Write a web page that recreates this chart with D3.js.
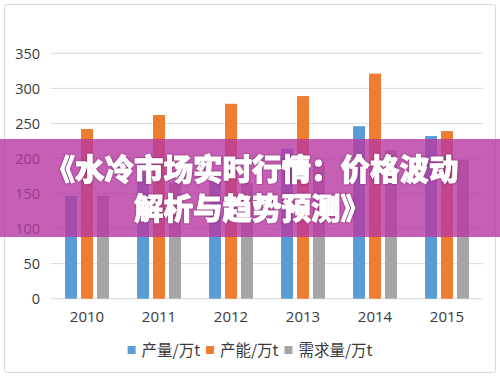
<!DOCTYPE html>
<html>
<head>
<meta charset="utf-8">
<script src="https://cdn.jsdelivr.net/npm/d3@7"></script>
<style>
  body { margin: 0; background: #fff; }
  svg { display: block; }
</style>
</head>
<body>
<div id="chart"></div>
<script>
// Data
const years = ["2010", "2011", "2012", "2013", "2014", "2015"];
const seriesNames = ["产量/万t", "产能/万t", "需求量/万t"];
const seriesColors = ["#5b9bd5", "#ed7d31", "#a5a5a5"];
const output = [147, 180, 172, 214, 246, 232];
const capacity = [242, 262, 278, 289, 321, 239];
const demand = [147, 165, 165, 194, 212, 198];
const yTicks = [0, 50, 100, 150, 200, 250, 300, 350];
const titleLines = ["《水冷市场实时行情：价格波动", "解析与趋势预测》"];

const seriesValues = [output, capacity, demand];
const rows = years.map((y, i) => ({year: y, values: seriesValues.map(s => s[i])}));

const width = 500, height = 377;
const plot = {left: 51, right: 483, top: 53.3, bottom: 298.7};

const svg = d3.select("#chart")
              .append("svg")
              .attr("width", width)
              .attr("height", height);

// Frame
svg.append("rect")
   .attr("x", 4.5)
   .attr("y", 4.5)
   .attr("width", 491)
   .attr("height", 368)
   .attr("rx", 2)
   .attr("fill", "#fff")
   .attr("stroke", "#d9d9d9");

// Scales
const x0 = d3.scaleBand()
             .domain(years)
             .range([plot.left, plot.right])
             .paddingInner(0.39)
             .paddingOuter(0.195);

const x1 = d3.scaleBand()
             .domain(d3.range(seriesNames.length))
             .range([0, x0.bandwidth()])
             .paddingInner(0.25)
             .paddingOuter(0);

const y = d3.scaleLinear()
            .domain([0, 350])
            .range([plot.bottom, plot.top]);

// Gridlines
svg.append("g")
   .selectAll("line")
   .data(yTicks)
   .join("line")
   .attr("x1", plot.left)
   .attr("x2", plot.right)
   .attr("y1", d => y(d))
   .attr("y2", d => y(d))
   .attr("stroke", "#d9d9d9")
   .attr("stroke-width", 1);

// Y axis labels
svg.append("g")
   .selectAll("text")
   .data(yTicks)
   .join("text")
   .attr("x", 40)
   .attr("y", d => y(d))
   .attr("dy", "0.36em")
   .attr("text-anchor", "end")
   .style("font-family", "'Open Sans', 'Noto Sans', sans-serif")
   .style("font-size", "14.5px")
   .style("fill", "#3a3a3a")
   .text(d => d);

// X axis labels
svg.append("g")
   .selectAll("text")
   .data(years)
   .join("text")
   .attr("x", d => x0(d) + x0.bandwidth() / 2)
   .attr("y", 322)
   .attr("text-anchor", "middle")
   .style("font-family", "'Open Sans', 'Noto Sans', sans-serif")
   .style("font-size", "15px")
   .style("fill", "#3a3a3a")
   .text(d => d);

// Bars
svg.append("g")
   .selectAll("g")
   .data(rows)
   .join("g")
   .attr("transform", d => `translate(${x0(d.year)},0)`)
   .selectAll("rect")
   .data(d => d.values.map((v, i) => ({i: i, v: v})))
   .join("rect")
   .attr("x", d => x1(d.i))
   .attr("width", x1.bandwidth())
   .attr("y", d => y(d.v))
   .attr("height", d => y(0) - y(d.v))
   .attr("fill", d => seriesColors[d.i]);

// Legend
const legend = svg.append("g");
const items = legend.selectAll("g")
                    .data(seriesNames)
                    .join("g");
items.append("rect")
     .attr("width", 8)
     .attr("height", 8)
     .attr("y", 346)
     .attr("fill", (d, i) => seriesColors[i]);
items.append("text")
     .attr("y", 356)
     .attr("x", 14)
     .style("font-family", "'Noto Sans CJK SC', sans-serif")
     .style("font-size", "15.5px")
     .style("fill", "#3a3a3a")
     .text(d => d);
let lx = 0;
items.each(function() {
  const w = d3.select(this).select("text").node().getComputedTextLength();
  d3.select(this).attr("transform", `translate(${lx},0)`);
  lx += 14 + w + 6;
});
legend.attr("transform", `translate(${(width - (lx - 6)) / 2},0)`);

// Title banner
svg.append("rect")
   .attr("x", 0)
   .attr("y", 139)
   .attr("width", width)
   .attr("height", 98)
   .attr("fill", "rgba(184, 56, 162, 0.8)");

svg.append("g")
   .selectAll("text")
   .data(titleLines)
   .join("text")
   .attr("x", 252)
   .attr("y", (d, i) => 180 + i * 39)
   .attr("text-anchor", "middle")
   .style("font-family", "'Noto Sans CJK SC', sans-serif")
   .style("font-weight", "900")
   .style("font-size", "29.5px")
   .style("fill", "#fff")
   .style("stroke", "#fff")
   .style("stroke-width", "0.9px")
   .style("stroke-linejoin", "round")
   .style("filter", "drop-shadow(0px 0px 1px rgba(80,0,60,0.6))")
   .text(d => d);
</script>
</body>
</html>
